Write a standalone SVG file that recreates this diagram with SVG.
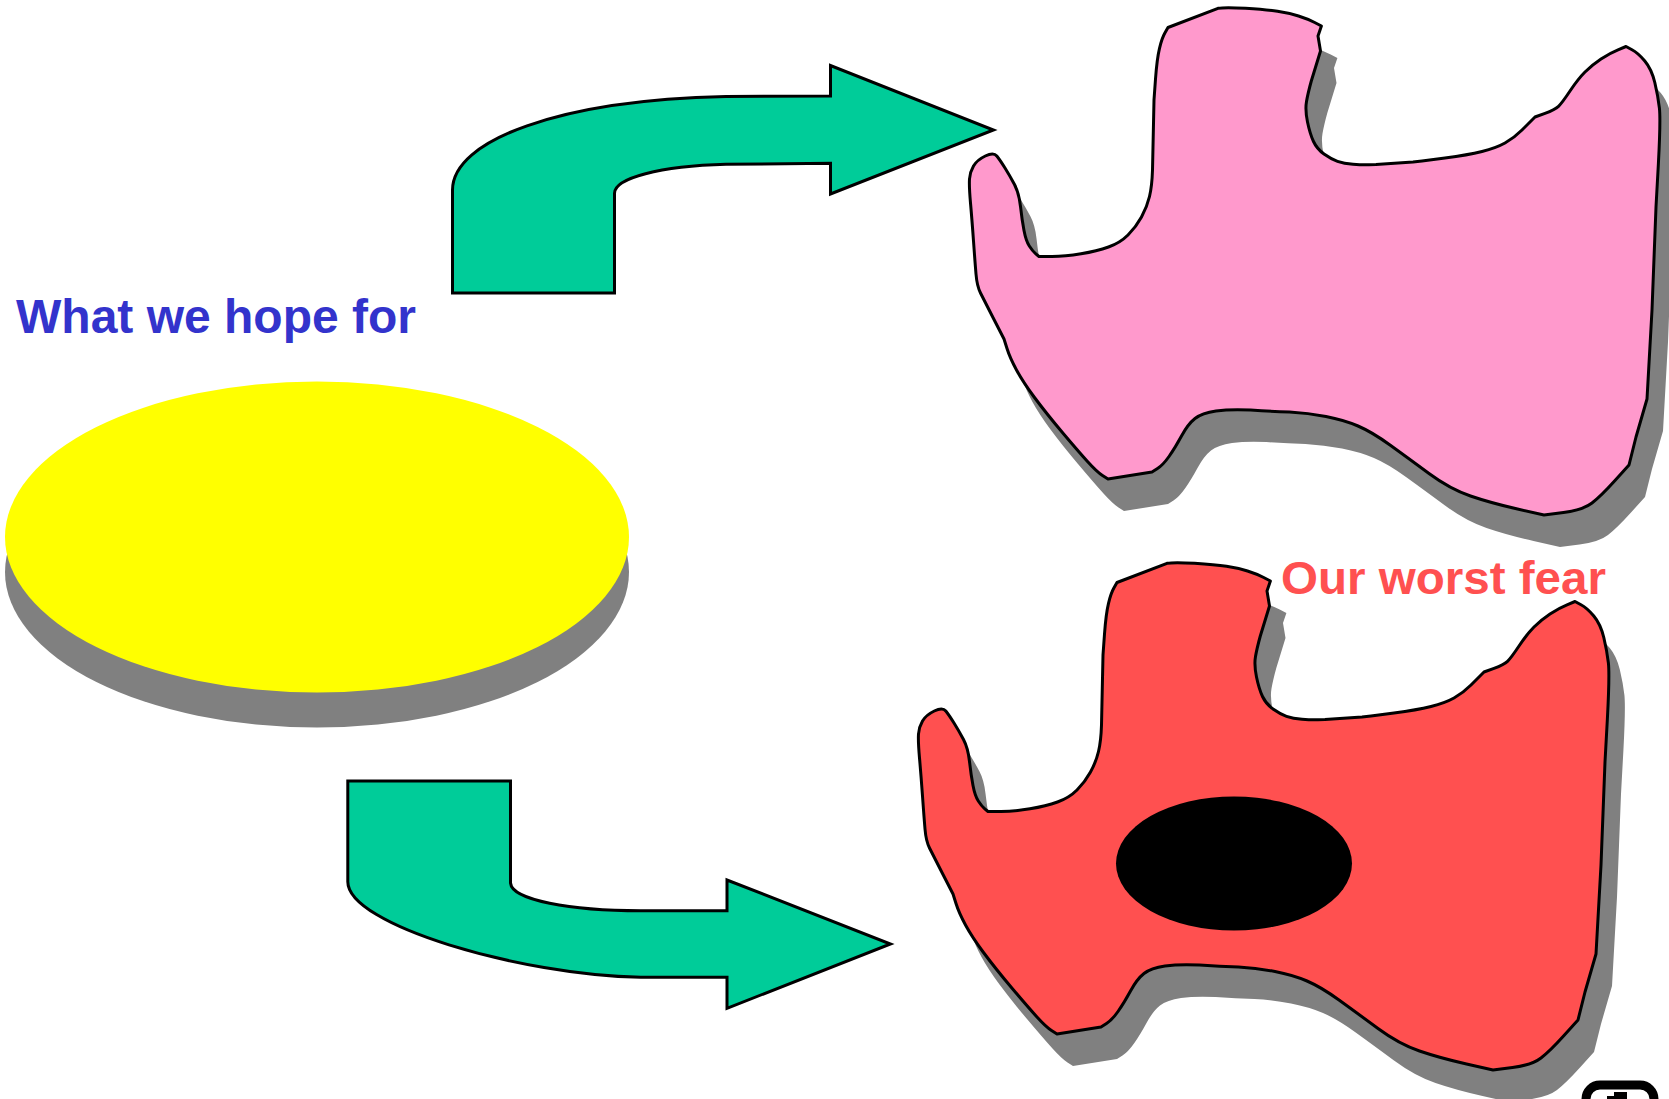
<svg xmlns="http://www.w3.org/2000/svg" xmlns:xlink="http://www.w3.org/1999/xlink" width="1669" height="1099" viewBox="0 0 1669 1099">
<style>
.arrow{fill:#00CC99;stroke:#000;stroke-width:3;stroke-linejoin:miter}
.outline{stroke:#000;stroke-width:3;stroke-linejoin:round}
.shadow{fill:#808080}
.lbl{font-family:"Liberation Sans",Arial,sans-serif;font-weight:bold}
</style>
<defs>
<path id="blob" d="M985.3,156 Q977,160 973.5,166 Q970,172 969.5,179 Q969,186 970.5,203 Q972,220 973.5,241 Q975,262 976,274 Q977,286 980.5,293 Q984,300 994,319.5 L1004,339 L1007,348.5 Q1010,358 1016.5,370 Q1023,382 1034.5,397.5 Q1046,413 1062,432 Q1078,451 1087.5,461.5 Q1097,472 1102.5,475.5 L1108,479 L1152,472 L1157.5,468.5 Q1163,465 1169,456.5 Q1175,448 1181.5,436 Q1188,424 1195,418.5 Q1202,413 1216,411 Q1230,409 1250.5,410 Q1271,411.5 1289.5,412 Q1308,413 1326,416.5 Q1344,420 1358,426 Q1372,432 1390,445 Q1408,458 1429,473.5 Q1450,489 1470.5,496 Q1491,503 1517.5,509 L1544,515 L1563.5,512.5 Q1583,510 1592,503 Q1601,496 1615,480.5 L1629,465 L1636,437 L1647,399 L1652,310 L1656,207 L1658.4,163.5 Q1660.7,120 1659.4,108 Q1658,96 1654.8,82.5 Q1651.5,69 1644.8,61 Q1638,53 1632,49.8 L1626,46.5 L1618,49.8 Q1610,53 1601,59 Q1592,65 1585,72 Q1578,79 1570,91 Q1562,103 1558.5,106.3 Q1555,109.5 1545,113.3 L1535,117 L1532.5,119.5 Q1530,122 1522,130 Q1514,138 1505,143 Q1496,148 1482,151.5 Q1468,155 1445,158 L1422,161 L1413,162 L1376,164.6 L1369,164.8 Q1362,165 1353,164.3 Q1344,163.6 1337.5,161.3 Q1331,159 1324,154 Q1317,149 1313.5,141.5 Q1310,134 1307.5,122 Q1305,110 1306.5,101.5 Q1308,93 1311.3,81 L1320.5,51 L1318,36 L1321.4,26 L1314.7,22.5 Q1308,19 1298.5,16 Q1289,13 1277.5,11.3 Q1266,9.6 1245.5,8.3 Q1225,7 1218,8.3 L1168,27.5 L1165,32.8 Q1162,38 1159.5,48.3 Q1157,58.5 1155.5,79 L1154,100 L1152.5,170 Q1152,186 1149.5,196.5 Q1147,207 1141.5,217 Q1136,227 1128,235 Q1120,243 1108.5,247 Q1097,251 1081,253.8 Q1065,256.5 1052,256.5 L1039,256.5 L1035.8,253.8 Q1032.5,251 1029.3,246 Q1026,241 1024,230.5 Q1022,220 1020.5,206.5 Q1019,193 1014.5,184.5 Q1010,176 1005,168 Q1000,160 996.8,156 Q993.6,152 985.3,156 Z"/>
</defs>

<g id="hope-disc">
<ellipse class="shadow" cx="317" cy="572" rx="312" ry="155.5"/>
<ellipse cx="317" cy="537" rx="312" ry="155.5" fill="#FFFF00"/>
</g>

<g id="hope-label">
<text class="lbl" x="16" y="333" font-size="48" fill="#3333CC">What we hope for</text>
</g>

<g id="hope-shape">
<use xlink:href="#blob" href="#blob" class="shadow" transform="translate(16,32)"/>
<use xlink:href="#blob" href="#blob" class="outline" fill="#FF99CC"/>
</g>

<g id="fear-shape">
<g transform="translate(-51,555)">
<use xlink:href="#blob" href="#blob" class="shadow" transform="translate(16,32)"/>
<use xlink:href="#blob" href="#blob" class="outline" fill="#FF5050"/>
</g>
<ellipse cx="1234" cy="863.5" rx="118" ry="67" fill="#000"/>
</g>

<g id="fear-label">
<text class="lbl" x="1281" y="594" font-size="47" textLength="325" lengthAdjust="spacingAndGlyphs" fill="#FF5050">Our worst fear</text>
</g>

<g id="connectors">
<path id="arrow-top" class="arrow" d="M452.5,293 L452.5,190 C452.5,140 560,100 726,96.5 L830.5,96 L830.5,65.5 L993.5,130 L830.5,194 L830.5,163.3 L726,164.3 C660,166 614.5,178 614.5,193.3 L614.5,293 Z"/>
<path id="arrow-bottom" class="arrow" d="M347.8,781 L510.5,781 L510.5,883 C512,900 570,910.7 640.8,910.7 L727,910.7 L727,880 L890.5,944 L727,1008.3 L727,977.3 L640.8,977.3 C520,975 347.8,925 347.8,881.7 Z"/>
</g>

<g id="corner-badge">
<rect x="1586" y="1085" width="68" height="40" rx="14" fill="#fff" stroke="#000" stroke-width="9"/>
<path d="M1607,1096 L1614,1096 L1614,1092 L1627,1092 L1627,1104 L1607,1104 Z" fill="#000"/>
</g>
</svg>
